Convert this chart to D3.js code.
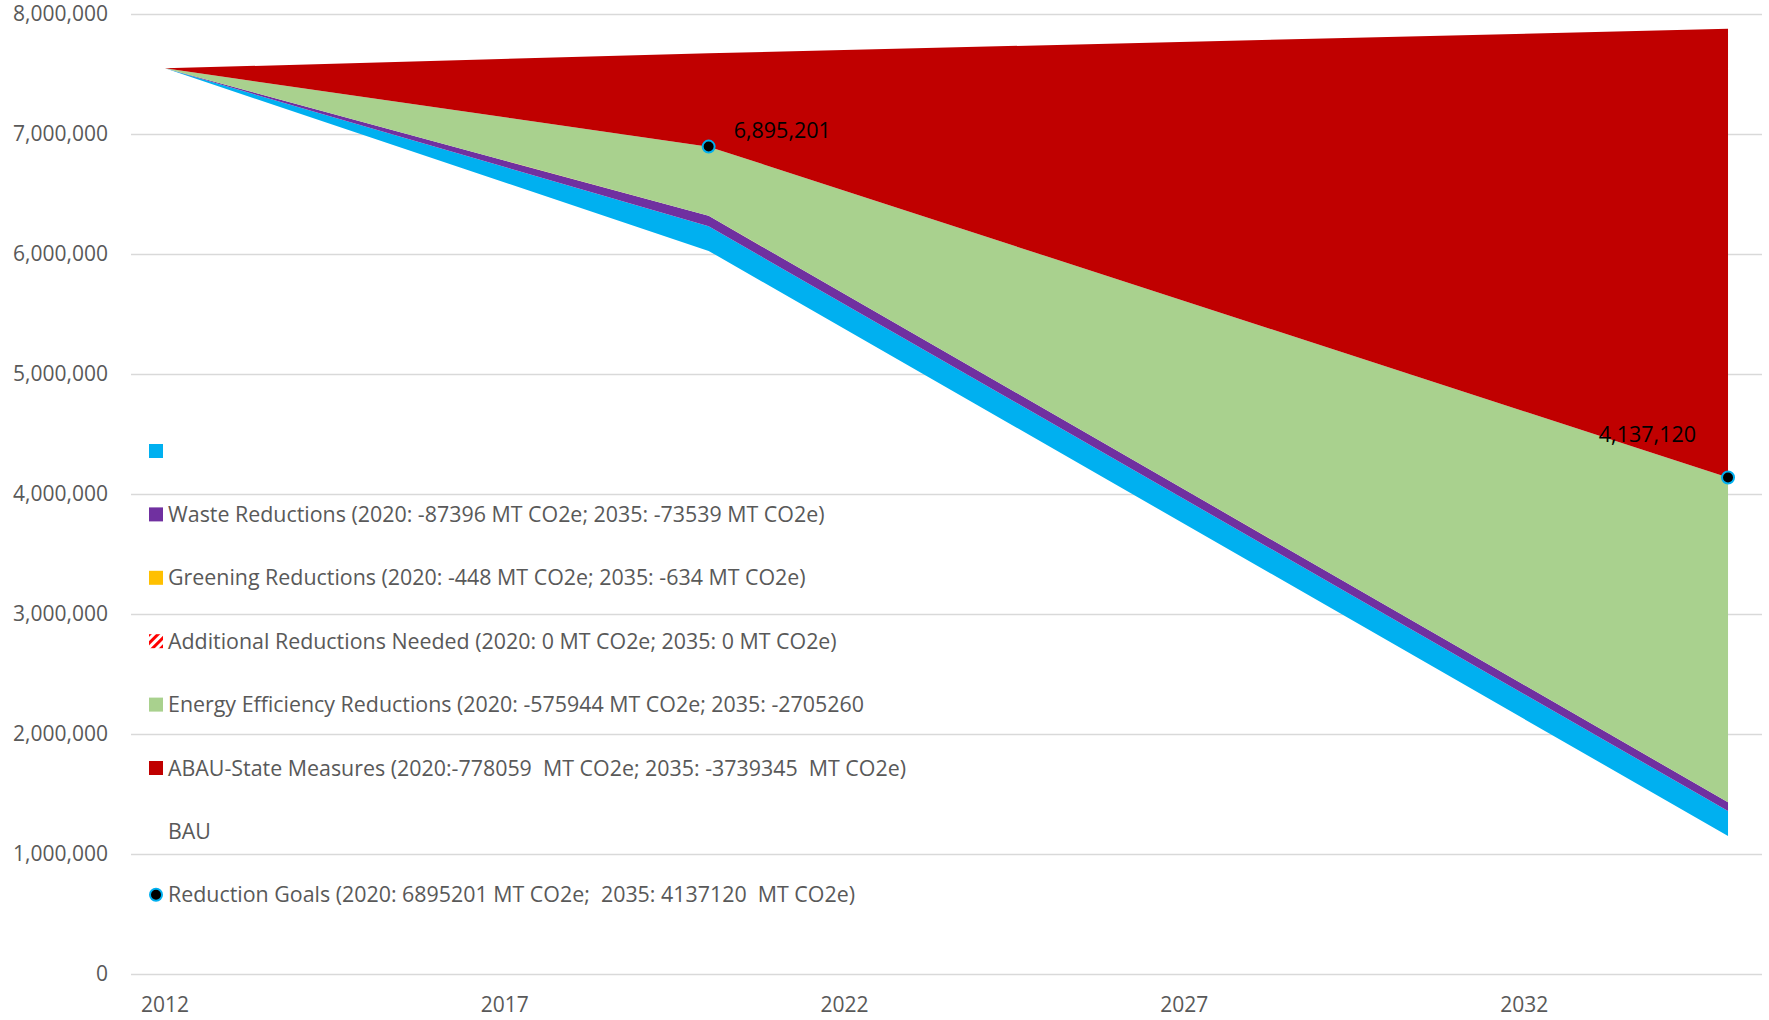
<!DOCTYPE html>
<html>
<head>
<meta charset="utf-8">
<script src="https://cdn.jsdelivr.net/npm/d3@7"></script>
<style>
  html, body { margin: 0; padding: 0; background: #fff; }
  svg text { font-family: "Open Sans", "Liberation Sans", sans-serif; white-space: pre; }
</style>
</head>
<body>
<figure id="chart" style="margin:0"></figure>
<script>
// categories (one per year on the axis)
const years = d3.range(2012, 2036);
const tickYears = [2012, 2017, 2022, 2027, 2032];
const yTicks = [0, 1000000, 2000000, 3000000, 4000000, 5000000, 6000000, 7000000, 8000000];

// series values at the years where they are given
const dataYears = [2012, 2020, 2035];
const baseRemaining = [7547000, 6026000, 1150000];   // unfilled bottom of the stack
const unnamed = [0, 205000, 208000];                 // blue band
const waste = [0, 87396, 73539];
const greening = [0, 448, 634];
const additional = [0, 0, 0];
const energy = [0, 575944, 2705260];
const abau = [0, 778059, 3739345];

const goalYears = [2020, 2035];
const goals = [6895201, 4137120];
const goalLabels = ["6,895,201", "4,137,120"];

const legendItems = [
  { key: "unnamed", label: "" },
  { key: "waste", label: "Waste Reductions (2020: -87396 MT CO2e; 2035: -73539 MT CO2e)" },
  { key: "greening", label: "Greening Reductions (2020: -448 MT CO2e; 2035: -634 MT CO2e)" },
  { key: "additional", label: "Additional Reductions Needed (2020: 0 MT CO2e; 2035: 0 MT CO2e)" },
  { key: "energy", label: "Energy Efficiency Reductions (2020: -575944 MT CO2e; 2035: -2705260" },
  { key: "abau", label: "ABAU-State Measures (2020:-778059  MT CO2e; 2035: -3739345  MT CO2e)" },
  { key: "bau", label: "BAU" },
  { key: "goals", label: "Reduction Goals (2020: 6895201 MT CO2e;  2035: 4137120  MT CO2e)" }
];

const colors = {
  baseRemaining: "none",
  unnamed: "#00B0F0",
  waste: "#7030A0",
  greening: "#FFC000",
  additional: "url(#diag)",
  energy: "#A9D18E",
  abau: "#C00000"
};

const W = 1769, H = 1020;
const plot = { left: 131, right: 1762, top: 14, bottom: 974 };

const svg = d3.select("figure#chart")
  .append("svg")
  .attr("width", W)
  .attr("height", H);

// red diagonal pattern for "Additional Reductions Needed"
const pat = svg.append("defs").append("pattern")
  .attr("id", "diag")
  .attr("width", 6).attr("height", 6)
  .attr("patternUnits", "userSpaceOnUse")
  .attr("patternTransform", "rotate(-45)");
pat.append("rect").attr("width", 6).attr("height", 6).attr("fill", "#fff");
pat.append("rect").attr("width", 6).attr("height", 3).attr("fill", "#FF0000");

// Scales
const x = d3.scaleBand()
  .domain(years)
  .range([plot.left, plot.right])
  .padding(0);
const xc = d => x(d) + x.bandwidth() / 2;

const y = d3.scaleLinear()
  .domain([0, 8000000])
  .range([plot.bottom, plot.top]);

// Y axis + gridlines
const yAxis = svg.append("g")
  .attr("transform", "translate(" + plot.left + ",0)")
  .call(d3.axisLeft(y)
    .tickValues(yTicks)
    .tickFormat(d3.format(","))
    .tickSize(-(plot.right - plot.left))
    .tickPadding(23));
yAxis.select(".domain").remove();
yAxis.selectAll("line").attr("stroke", "#d9d9d9").attr("stroke-width", 1.5);
yAxis.selectAll("text")
  .attr("fill", "#595959")
  .style("font-size", "21px")
  .style("font-family", "'Open Sans', sans-serif");

// Stacked areas
const rows = dataYears.map((yr, i) => ({
  year: yr,
  baseRemaining: baseRemaining[i],
  unnamed: unnamed[i],
  waste: waste[i],
  greening: greening[i],
  additional: additional[i],
  energy: energy[i],
  abau: abau[i]
}));
const keys = ["baseRemaining", "unnamed", "waste", "greening", "additional", "energy", "abau"];
const series = d3.stack().keys(keys)(rows);

const area = d3.area()
  .x(d => xc(d.data.year))
  .y0(d => y(d[0]))
  .y1(d => y(d[1]));

svg.append("g")
  .selectAll("path")
  .data(series)
  .enter()
  .append("path")
  .attr("d", area)
  .attr("fill", d => colors[d.key]);

// X axis labels
const xAxis = svg.append("g")
  .attr("transform", "translate(0," + plot.bottom + ")")
  .call(d3.axisBottom(x).tickValues(tickYears).tickSize(0).tickPadding(23));
xAxis.select(".domain").remove();
xAxis.selectAll("text")
  .attr("fill", "#595959")
  .style("font-size", "21px")
  .style("font-family", "'Open Sans', sans-serif");

// Reduction goal markers and labels
const goalPts = goalYears.map((yr, i) => ({ year: yr, v: goals[i], label: goalLabels[i] }));
svg.append("g")
  .selectAll("circle")
  .data(goalPts)
  .enter()
  .append("circle")
  .attr("cx", d => xc(d.year))
  .attr("cy", d => y(d.v))
  .attr("r", 6)
  .attr("fill", "#000")
  .attr("stroke", "#00B0F0")
  .attr("stroke-width", 2);

svg.append("g")
  .selectAll("text")
  .data(goalPts)
  .enter()
  .append("text")
  .attr("x", (d, i) => xc(d.year) + (i === 0 ? 25 : -32))
  .attr("y", (d, i) => y(d.v) + (i === 0 ? -9 : -36))
  .attr("text-anchor", (d, i) => i === 0 ? "start" : "end")
  .attr("fill", "#000")
  .style("font-size", "21.5px")
  .text(d => d.label);

// Legend
const legend = svg.append("g").attr("transform", "translate(149,451)");
const item = legend.selectAll("g")
  .data(legendItems)
  .enter()
  .append("g")
  .attr("transform", (d, i) => "translate(0," + (i * 63.4) + ")");

item.filter(d => d.key !== "bau" && d.key !== "goals")
  .append("rect")
  .attr("x", 0).attr("y", -7)
  .attr("width", 14).attr("height", 14)
  .attr("fill", d => colors[d.key]);

item.filter(d => d.key === "goals")
  .append("circle")
  .attr("cx", 7).attr("cy", 0).attr("r", 6)
  .attr("fill", "#000")
  .attr("stroke", "#00B0F0")
  .attr("stroke-width", 2);

item.append("text")
  .attr("x", 19)
  .attr("dy", "0.35em")
  .attr("fill", "#595959")
  .style("font-size", "21.4px")
  .text(d => d.label);
</script>
</body>
</html>
